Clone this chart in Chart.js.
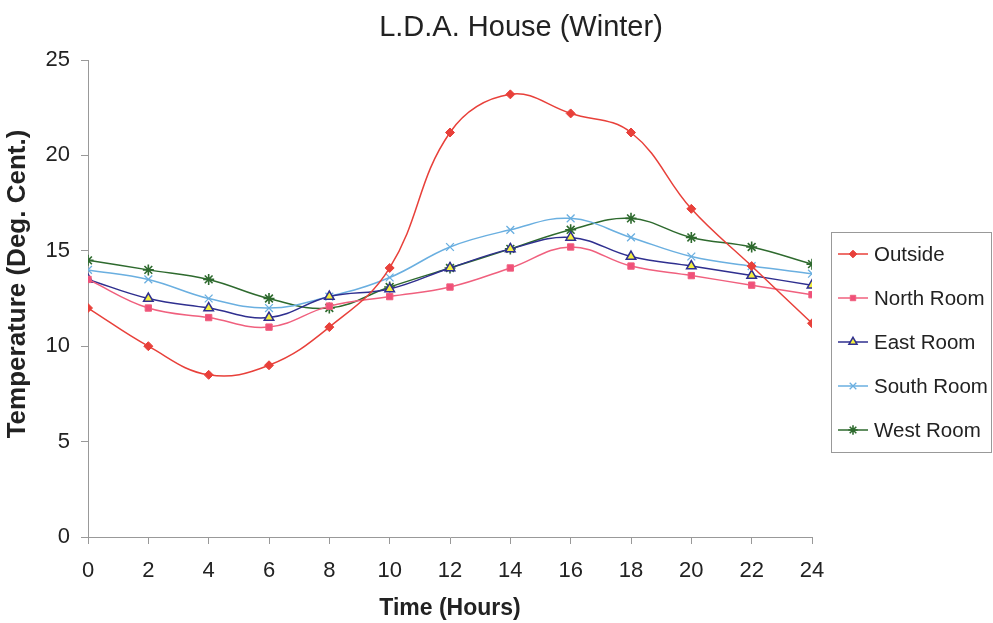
<!DOCTYPE html>
<html>
<head>
<meta charset="utf-8">
<script src="https://cdn.jsdelivr.net/npm/chart.js@4.4.1/dist/chart.umd.min.js"></script>
<style>
  html, body { margin: 0; padding: 0; background: #fff; }
  #wrap { width: 993px; height: 623px; position: relative; }
</style>
</head>
<body>
<div id="wrap"><canvas id="tempChart" width="993" height="623"></canvas></div>
<script>
// --- 데이터 ---
const hours = [0, 2, 4, 6, 8, 10, 12, 14, 16, 18, 20, 22, 24];
const outside   = [12.0, 10.0, 8.5, 9.0, 11.0, 14.1, 21.2, 23.2, 22.2, 21.2, 17.2, 14.2, 11.2];
const northRoom = [13.5, 12.0, 11.5, 11.0, 12.1, 12.6, 13.1, 14.1, 15.2, 14.2, 13.7, 13.2, 12.7];
const eastRoom  = [13.5, 12.5, 12.0, 11.5, 12.6, 13.0, 14.1, 15.1, 15.7, 14.7, 14.2, 13.7, 13.2];
const southRoom = [14.0, 13.5, 12.5, 12.0, 12.6, 13.6, 15.2, 16.1, 16.7, 15.7, 14.7, 14.2, 13.8];
const westRoom  = [14.5, 14.0, 13.5, 12.5, 12.0, 13.1, 14.1, 15.1, 16.1, 16.7, 15.7, 15.2, 14.3];
const yTicks = [0, 5, 10, 15, 20, 25];

const FONT = 'Arial, "Liberation Sans", sans-serif';

function series(label, values, color, style) {
    return Object.assign({
        label: label,
        data: values.map((v, i) => ({ x: hours[i], y: v })),
        borderColor: color,
        backgroundColor: color,
        pointBorderColor: color,
        pointBackgroundColor: color,
        borderWidth: 1.5,
        pointBorderWidth: 1,
        tension: 0.4,
        fill: false
    }, style);
}

const datasets = [
    series('Outside', outside, '#e8403a', { pointStyle: 'rectRot', pointRadius: 4.5 }),
    series('North Room', northRoom, '#f0607e', { pointStyle: 'rect', pointRadius: 4.5, pointBackgroundColor: '#f0507a' }),
    series('East Room', eastRoom, '#2f2f8f', { pointStyle: 'triangle', pointRadius: 5.5, pointBorderWidth: 1.5, pointBackgroundColor: '#f4f040' }),
    series('South Room', southRoom, '#6aafe0', { pointStyle: 'crossRot', pointRadius: 5.5, pointBorderWidth: 1.3 }),
    series('West Room', westRoom, '#2e6a2e', { pointStyle: 'star', pointRadius: 5.5, pointBorderWidth: 1.6 })
];

// 제목, 세로축 제목, 테두리 있는 범례 직접 그리기
const extras = {
    id: 'extras',
    afterDraw(chart) {
        const c = chart.ctx;
        c.save();
        c.fillStyle = '#222';
        c.font = '29px ' + FONT;
        c.textAlign = 'center';
        c.textBaseline = 'middle';
        c.fillText('L.D.A. House (Winter)', 521, 28);

        c.save();
        c.translate(18, 284);
        c.rotate(-Math.PI / 2);
        c.font = 'bold 26px ' + FONT;
        c.fillText('Temperature (Deg. Cent.)', 0, 0);
        c.restore();

        // 범례 박스
        c.strokeStyle = '#999';
        c.lineWidth = 1;
        c.strokeRect(831.5, 232.5, 160, 220);
        c.font = '20.5px ' + FONT;
        c.textAlign = 'left';
        chart.data.datasets.forEach((ds, i) => {
            const y = 254 + i * 44;
            c.strokeStyle = ds.borderColor;
            c.lineWidth = 1.5;
            c.beginPath();
            c.moveTo(838, y);
            c.lineTo(868, y);
            c.stroke();
            c.fillStyle = ds.pointBackgroundColor;
            c.strokeStyle = ds.pointBorderColor;
            c.lineWidth = ds.pointBorderWidth;
            Chart.helpers.drawPoint(c, {
                pointStyle: ds.pointStyle,
                radius: ds.pointRadius * 0.85,
                borderWidth: ds.pointBorderWidth
            }, 853, y);
            c.fillStyle = '#222';
            c.fillText(ds.label, 874, y + 1);
        });
        c.restore();
    }
};

const ctx = document.getElementById('tempChart').getContext('2d');
const tempChart = new Chart(ctx, {
    type: 'line',
    data: { datasets: datasets },
    options: {
        responsive: false,
        animation: false,
        layout: { padding: { top: 60, right: 181, left: 0, bottom: 0 } },
        plugins: {
            legend: { display: false },
            title: { display: false },
            tooltip: { enabled: false }
        },
        scales: {
            x: {
                type: 'linear',
                min: 0,
                max: 24,
                afterFit: (s) => { s.height = 86; },
                ticks: {
                    stepSize: 2,
                    color: '#222',
                    font: { family: FONT, size: 22 },
                    padding: 14,
                    maxRotation: 0
                },
                grid: { drawOnChartArea: false, tickLength: 7, color: '#999' },
                border: { color: '#999', width: 1 },
                title: {
                    display: true,
                    text: 'Time (Hours)',
                    color: '#222',
                    font: { family: FONT, size: 23, weight: 'bold' },
                    padding: { top: 4, bottom: 1 }
                }
            },
            y: {
                type: 'linear',
                min: 0,
                max: 25,
                afterFit: (s) => { s.width = 88; },
                afterBuildTicks: (s) => { s.ticks = yTicks.map(v => ({ value: v })); },
                ticks: {
                    color: '#222',
                    font: { family: FONT, size: 22 },
                    padding: 11
                },
                grid: { drawOnChartArea: false, tickLength: 7, color: '#999' },
                border: { color: '#999', width: 1 },
                title: { display: false }
            }
        }
    },
    plugins: [extras]
});
</script>
</body>
</html>
